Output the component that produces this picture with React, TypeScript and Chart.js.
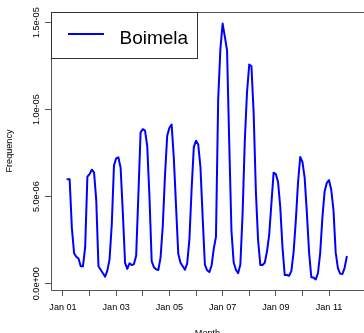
import React, { useEffect, useRef } from "react";
import { Chart, registerables } from "chart.js";

Chart.register(...registerables);

const SERIES_LABEL = "Boimela";
const X_TITLE = "Month";
const Y_TITLE = "Frequency";

// First observation: March 2001; one value per month
const START_YEAR = 2001;
const START_MONTH = 3;

const frequency: number[] = [
  6.0e-6, 6.0e-6, 3.2e-6, 1.75e-6, 1.55e-6, 1.45e-6, 1.0e-6, 1.0e-6, 2.1e-6, 6.15e-6,
  6.3e-6, 6.55e-6, 6.4e-6, 4.8e-6, 1.0e-6, 0.8e-6, 0.6e-6, 0.4e-6, 0.75e-6, 1.4e-6,
  3.4e-6, 6.8e-6, 7.2e-6, 7.26e-6, 6.65e-6, 4.05e-6, 1.2e-6, 0.85e-6, 1.17e-6, 1.07e-6,
  1.13e-6, 1.6e-6, 5.1e-6, 8.7e-6, 8.88e-6, 8.8e-6, 7.9e-6, 5.0e-6, 1.3e-6, 0.95e-6,
  0.83e-6, 0.79e-6, 1.5e-6, 3.3e-6, 6.2e-6, 8.5e-6, 8.96e-6, 9.14e-6, 7.2e-6, 4.43e-6,
  1.7e-6, 1.2e-6, 1.0e-6, 0.8e-6, 1.15e-6, 2.5e-6, 5.4e-6, 7.85e-6, 8.22e-6, 8.0e-6,
  6.7e-6, 3.8e-6, 1.1e-6, 0.77e-6, 0.67e-6, 1.03e-6, 2.0e-6, 2.7e-6, 10.6e-6, 13.5e-6,
  14.95e-6, 14.2e-6, 13.4e-6, 8.0e-6, 3.0e-6, 1.2e-6, 0.8e-6, 0.6e-6, 1.1e-6, 4.0e-6,
  8.2e-6, 11.0e-6, 12.6e-6, 12.5e-6, 9.8e-6, 5.3e-6, 2.5e-6, 1.08e-6, 1.08e-6, 1.2e-6,
  1.85e-6, 2.8e-6, 4.6e-6, 6.38e-6, 6.3e-6, 5.85e-6, 4.4e-6, 2.1e-6, 0.5e-6, 0.5e-6,
  0.46e-6, 0.72e-6, 1.8e-6, 3.6e-6, 5.8e-6, 7.28e-6, 7.0e-6, 6.1e-6, 4.07e-6, 1.8e-6,
  0.37e-6, 0.35e-6, 0.25e-6, 0.6e-6, 1.75e-6, 3.8e-6, 5.3e-6, 5.8e-6, 5.95e-6, 5.4e-6,
  4.23e-6, 1.8e-6, 0.9e-6, 0.58e-6, 0.55e-6, 0.9e-6, 1.55e-6,
];

// x axis: months since Jan 2001
const xTickMonths = [0, 12, 24, 36, 48, 60, 72, 84, 96, 108, 120];
const xTickLabels = ["Jan 01", "", "Jan 03", "", "Jan 05", "", "Jan 07", "", "Jan 09", "", "Jan 11"];
const yTickValues = [0, 5e-6, 1e-5, 1.5e-5];
const yTickLabels = ["0.0e+00", "5.0e-06", "1.0e-05", "1.5e-05"];

const X_MIN = -5.41;
const X_MAX = 135.77;
const Y_MIN = -0.362e-6;
const Y_MAX = 15.615e-6;

const FONT_FAMILY = "'Liberation Sans', Arial, Helvetica, sans-serif";
const AXIS_COLOR = "#555";

const framePlugin = {
  id: "frameBox",
  afterDatasetsDraw(chart: any) {
    const { ctx, chartArea: a } = chart;
    ctx.save();
    ctx.strokeStyle = AXIS_COLOR;
    ctx.lineWidth = 1;
    ctx.beginPath();
    ctx.moveTo(a.right + 0.5, a.bottom + 0.5);
    ctx.lineTo(a.left + 0.5, a.bottom + 0.5);
    ctx.lineTo(a.left + 0.5, a.top + 0.5);
    ctx.lineTo(a.right + 0.5, a.top + 0.5);
    ctx.stroke();
    ctx.restore();
  },
};

const insetLegendPlugin = {
  id: "insetLegend",
  afterDraw(chart: any) {
    const { ctx, chartArea: a } = chart;
    const ds = chart.data.datasets[0];
    ctx.save();
    ctx.fillStyle = "#ffffff";
    ctx.fillRect(a.left + 0.5, a.top + 0.5, 146, 46);
    ctx.strokeStyle = "#333";
    ctx.lineWidth = 1;
    ctx.strokeRect(a.left + 0.5, a.top + 0.5, 146, 46);
    ctx.strokeStyle = ds.borderColor;
    ctx.lineWidth = ds.borderWidth;
    ctx.lineCap = "butt";
    ctx.beginPath();
    ctx.moveTo(a.left + 17, a.top + 22);
    ctx.lineTo(a.left + 53, a.top + 22);
    ctx.stroke();
    ctx.fillStyle = "#000";
    ctx.font = `19px ${FONT_FAMILY}`;
    ctx.textBaseline = "alphabetic";
    ctx.textAlign = "left";
    ctx.fillText(ds.label, a.left + 68.5, a.top + 31.5);
    ctx.restore();
  },
};

export default function App() {
  const ref = useRef<HTMLCanvasElement>(null);

  useEffect(() => {
    const canvas = ref.current;
    if (!canvas) return;
    const monthOffset = (START_YEAR - 2001) * 12 + (START_MONTH - 1);
    const points = frequency.map((v, i) => ({ x: monthOffset + i, y: v }));
    const tickFont = { size: 9.1, family: FONT_FAMILY };

    const chart = new Chart(canvas, {
      type: "line",
      data: {
        datasets: [
          {
            label: SERIES_LABEL,
            data: points,
            borderColor: "#0000ff",
            backgroundColor: "#0000ff",
            borderWidth: 2,
            pointRadius: 0,
            tension: 0,
            fill: false,
            borderJoinStyle: "round",
            borderCapStyle: "round",
          },
        ],
      },
      options: {
        animation: false,
        responsive: false,
        devicePixelRatio: 1,
        parsing: false,
        layout: { padding: { top: 12, left: 0, right: 0, bottom: 0 } },
        plugins: {
          legend: { display: false },
          tooltip: { enabled: false },
        },
        scales: {
          x: {
            type: "linear",
            min: X_MIN,
            max: X_MAX,
            afterBuildTicks: (s: any) => {
              s.ticks = xTickMonths.map((value) => ({ value }));
            },
            afterFit: (s: any) => {
              s.height = 50;
            },
            ticks: {
              autoSkip: false,
              maxRotation: 0,
              minRotation: 0,
              padding: 5.8,
              color: "#000",
              font: tickFont,
              callback: (_v: any, i: number) => xTickLabels[i],
            },
            grid: {
              display: true,
              drawOnChartArea: false,
              drawTicks: true,
              tickLength: 6,
              color: AXIS_COLOR,
              tickColor: AXIS_COLOR,
              tickWidth: 1,
            },
            border: { display: false },
            title: {
              display: true,
              text: X_TITLE,
              color: "#000",
              font: tickFont,
              padding: { top: 0, bottom: 1 },
            },
          },
          y: {
            type: "linear",
            min: Y_MIN,
            max: Y_MAX,
            afterBuildTicks: (s: any) => {
              s.ticks = yTickValues.map((value) => ({ value }));
            },
            afterFit: (s: any) => {
              s.width = 51;
            },
            ticks: {
              minRotation: 90,
              maxRotation: 90,
              crossAlign: "center",
              padding: -8.4,
              color: "#000",
              font: tickFont,
              callback: (_v: any, i: number) => yTickLabels[i],
            },
            grid: {
              display: true,
              drawOnChartArea: false,
              drawTicks: true,
              tickLength: 6,
              color: AXIS_COLOR,
              tickColor: AXIS_COLOR,
              tickWidth: 1,
            },
            border: { display: false },
            title: {
              display: true,
              text: Y_TITLE,
              color: "#000",
              font: tickFont,
              padding: { top: 4.5, bottom: 0 },
            },
          },
        },
      } as any,
      plugins: [framePlugin, insetLegendPlugin],
    });
    return () => chart.destroy();
  }, []);

  return (
    <div
      style={{
        position: "fixed",
        left: 0,
        top: 0,
        width: 364,
        height: 333,
        overflow: "hidden",
        background: "#fff",
      }}
    >
      <canvas ref={ref} width={364} height={340} style={{ display: "block", width: 364, height: 340 }} />
    </div>
  );
}
